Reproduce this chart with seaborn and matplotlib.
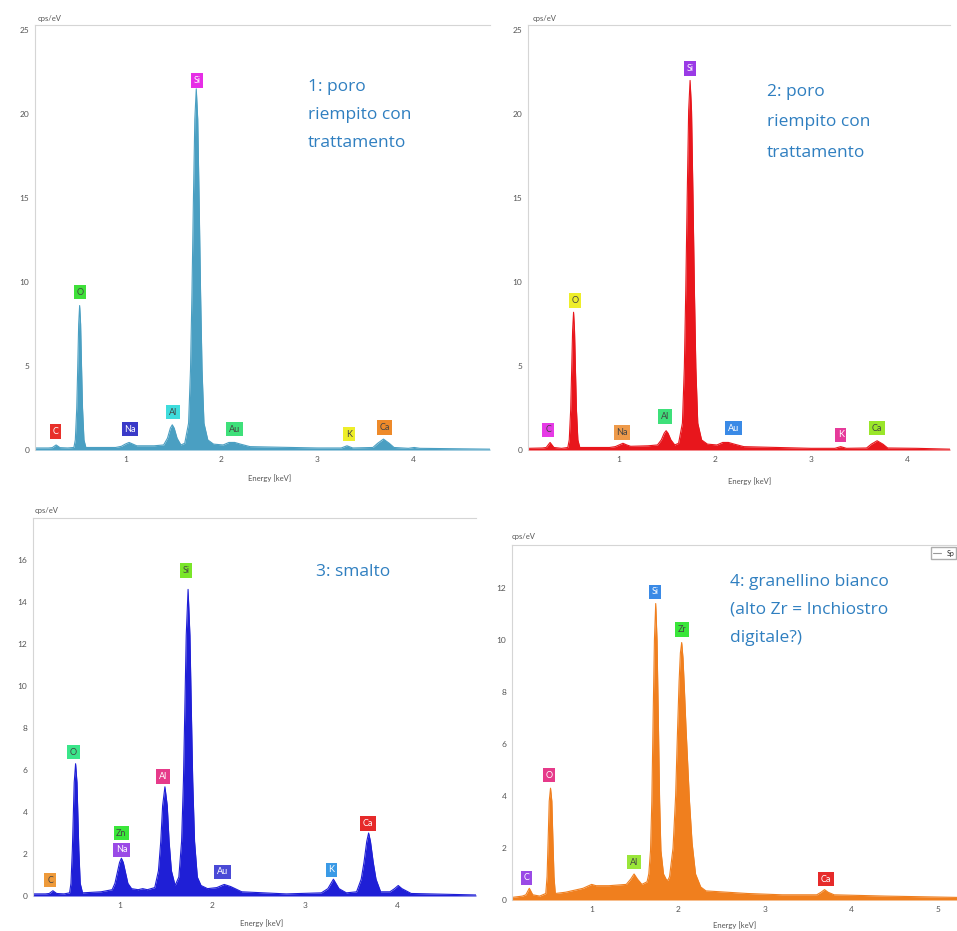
#!/usr/bin/env python3
"""EDS spectra, four measurement points (poro / smalto / granellino)."""

import matplotlib

matplotlib.use("Agg")
import matplotlib.pyplot as plt
import pandas as pd
import seaborn as sns

# --- panel 1: poro riempito con trattamento (1)
E1 = [0.06, 0.20, 0.24, 0.28, 0.32, 0.40, 0.465, 0.48, 0.495, 0.505, 0.515, 0.525, 0.535, 0.545,
      0.555, 0.57, 0.59, 0.90, 0.96, 1.00, 1.04, 1.08, 1.12, 1.30, 1.40, 1.44, 1.47, 1.49, 1.51,
      1.54, 1.58, 1.62, 1.66, 1.68, 1.695, 1.71, 1.725, 1.74, 1.755, 1.77, 1.785, 1.80, 1.82,
      1.86, 1.92, 2.02, 2.08, 2.14, 2.20, 2.30, 3.00, 3.25, 3.31, 3.37, 3.58, 3.63, 3.69, 3.75,
      3.80, 3.95, 4.01, 4.07, 4.80]
C1 = [0.12, 0.12, 0.14, 0.3, 0.14, 0.12, 0.15, 0.6, 2.5, 4.9, 7.5, 8.6, 7.5, 4.9,
      2.5, 0.6, 0.15, 0.15, 0.22, 0.35, 0.45, 0.35, 0.25, 0.25, 0.3, 0.7, 1.3, 1.5, 1.3,
      0.7, 0.3, 0.4, 1.6, 4.8, 9.3, 14.8, 19.7, 21.5, 19.7, 14.8, 9.3, 4.8, 1.6,
      0.6, 0.35, 0.3, 0.45, 0.45, 0.35, 0.2, 0.12, 0.12, 0.25, 0.12, 0.15, 0.4, 0.65, 0.4,
      0.15, 0.1, 0.15, 0.1, 0.05]
EL1 = ["C", "O", "Na", "Al", "Si", "Au", "K", "Ca"]
EL1_X = [0.27, 0.53, 1.05, 1.50, 1.75, 2.14, 3.33, 3.70]
EL1_Y = [1.1, 9.4, 1.25, 2.25, 22.0, 1.25, 0.95, 1.35]
EL1_COL = ["#e8302a", "#3fe03a", "#3a3ac8", "#3fdcdc", "#e62ee6", "#3ee07a", "#eeee2a", "#ee8a2a"]

# --- panel 2: poro riempito con trattamento (2)
E2 = [0.05, 0.20, 0.24, 0.28, 0.32, 0.40, 0.465, 0.48, 0.495, 0.505, 0.515, 0.525, 0.535, 0.545,
      0.555, 0.57, 0.59, 0.90, 0.96, 1.00, 1.04, 1.08, 1.12, 1.30, 1.40, 1.44, 1.47, 1.49, 1.51,
      1.54, 1.58, 1.62, 1.66, 1.68, 1.695, 1.71, 1.725, 1.74, 1.755, 1.77, 1.785, 1.80, 1.82,
      1.86, 1.92, 2.02, 2.08, 2.14, 2.20, 2.30, 3.00, 3.25, 3.31, 3.37, 3.58, 3.63, 3.69, 3.75,
      3.80, 4.10, 4.45]
C2 = [0.1, 0.12, 0.15, 0.45, 0.15, 0.1, 0.15, 0.6, 2.4, 4.7, 7.1, 8.2, 7.1, 4.7,
      2.4, 0.6, 0.15, 0.15, 0.2, 0.3, 0.4, 0.3, 0.22, 0.25, 0.3, 0.6, 1.0, 1.15, 1.0,
      0.6, 0.3, 0.4, 1.6, 4.9, 9.5, 15.1, 20.2, 22.0, 20.2, 15.1, 9.5, 4.9, 1.6,
      0.6, 0.35, 0.3, 0.45, 0.45, 0.35, 0.2, 0.1, 0.1, 0.2, 0.1, 0.12, 0.35, 0.55, 0.35,
      0.12, 0.1, 0.05]
EL2 = ["C", "O", "Na", "Al", "Si", "Au", "K", "Ca"]
EL2_X = [0.26, 0.54, 1.03, 1.48, 1.74, 2.19, 3.31, 3.69]
EL2_Y = [1.2, 8.9, 1.05, 2.0, 22.7, 1.3, 0.9, 1.3]
EL2_COL = ["#e63ae6", "#eeee2a", "#ee9a4a", "#3ee07a", "#9a3ae6", "#3a8ae6", "#e63a9a", "#9ae62a"]

# --- panel 3: smalto
E3 = [0.06, 0.20, 0.24, 0.28, 0.32, 0.40, 0.46, 0.475, 0.49, 0.50, 0.51, 0.525, 0.54, 0.55,
      0.56, 0.575, 0.60, 0.80, 0.92, 0.95, 0.98, 1.00, 1.02, 1.04, 1.06, 1.09, 1.13, 1.20, 1.25,
      1.30, 1.38, 1.42, 1.445, 1.465, 1.49, 1.515, 1.535, 1.56, 1.60, 1.64, 1.67, 1.69, 1.705,
      1.72, 1.74, 1.76, 1.775, 1.79, 1.81, 1.84, 1.88, 1.95, 2.05, 2.13, 2.20, 2.32, 2.80, 3.18,
      3.25, 3.31, 3.37, 3.45, 3.56, 3.61, 3.64, 3.67, 3.69, 3.71, 3.74, 3.77, 3.82, 3.92, 3.97,
      4.01, 4.05, 4.15, 4.85]
C3 = [0.1, 0.1, 0.12, 0.25, 0.12, 0.1, 0.15, 0.6, 2.2, 3.8, 5.4, 6.3, 5.4, 3.8,
      2.2, 0.6, 0.15, 0.2, 0.3, 0.6, 1.2, 1.6, 1.8, 1.6, 1.2, 0.6, 0.35, 0.3, 0.35,
      0.3, 0.4, 1.2, 2.6, 4.3, 5.2, 4.3, 2.6, 1.2, 0.5, 0.9, 2.6, 5.5, 8.9,
      12.4, 14.6, 12.4, 8.9, 5.5, 2.6, 0.9, 0.5, 0.35, 0.4, 0.55, 0.45, 0.2, 0.1, 0.15,
      0.35, 0.8, 0.35, 0.15, 0.2, 0.8, 1.6, 2.6, 3.0, 2.6, 1.6, 0.8, 0.2, 0.2, 0.35,
      0.5, 0.35, 0.12, 0.05]
EL3 = ["C", "O", "Zn", "Na", "Al", "Si", "Au", "K", "Ca"]
EL3_X = [0.25, 0.50, 1.02, 1.02, 1.47, 1.72, 2.11, 3.29, 3.68]
EL3_Y = [0.75, 6.85, 3.0, 2.2, 5.7, 15.5, 1.15, 1.25, 3.45]
EL3_COL = ["#ee9a3a", "#3ae68a", "#3ae63a", "#9a4ae6", "#e63a8a", "#7ae62a", "#4a4ad6", "#3a9ae6", "#e62a2a"]

# --- panel 4: granellino bianco
E4 = [0.08, 0.20, 0.24, 0.28, 0.32, 0.40, 0.47, 0.485, 0.50, 0.51, 0.525, 0.54, 0.55, 0.565,
      0.58, 0.70, 0.90, 1.00, 1.05, 1.20, 1.40, 1.45, 1.49, 1.53, 1.58, 1.64, 1.66, 1.68, 1.695,
      1.71, 1.725, 1.74, 1.755, 1.77, 1.785, 1.80, 1.83, 1.86, 1.88, 1.90, 1.94, 1.97, 1.99,
      2.01, 2.025, 2.04, 2.055, 2.07, 2.09, 2.11, 2.13, 2.16, 2.20, 2.26, 2.32, 2.80, 3.20, 3.60,
      3.65, 3.69, 3.73, 3.80, 4.40, 5.22]
C4 = [0.1, 0.15, 0.2, 0.45, 0.2, 0.15, 0.25, 0.9, 2.6, 3.8, 4.3, 3.8, 2.6, 0.9,
      0.25, 0.3, 0.45, 0.6, 0.55, 0.55, 0.6, 0.8, 1.0, 0.8, 0.6, 0.7, 1.0, 1.9, 3.8,
      7.0, 10.0, 11.4, 10.0, 7.0, 3.8, 1.9, 1.0, 0.8, 0.75, 0.9, 2.0, 4.0, 6.3,
      8.4, 9.5, 9.9, 9.3, 8.2, 6.6, 5.2, 3.8, 2.2, 1.0, 0.5, 0.35, 0.25, 0.2, 0.2,
      0.3, 0.4, 0.3, 0.2, 0.15, 0.1]
EL4 = ["C", "O", "Al", "Si", "Zr", "Ca"]
EL4_X = [0.25, 0.51, 1.49, 1.73, 2.04, 3.71]
EL4_Y = [0.85, 4.8, 1.45, 11.85, 10.4, 0.8]
EL4_COL = ["#9a4ae6", "#e63a8a", "#9ae63a", "#3a8ae6", "#3ae63a", "#e62a2a"]

NOTES = ["1: poro\nriempito con\ntrattamento",
         "2: poro\nriempito con\ntrattamento",
         "3: smalto",
         "4: granellino bianco\n(alto Zr = Inchiostro\ndigitale?)"]

W, H = 957, 931
DARK_BOX = {"#3a3ac8", "#e62ee6", "#9a3ae6", "#3a8ae6", "#e63a9a", "#9a4ae6", "#e63a8a",
            "#4a4ad6", "#3a9ae6", "#e62a2a", "#e8302a"}

sns.set_theme(style="white")
plt.rcParams["font.family"] = ["Lato", "DejaVu Sans"]

fig = plt.figure(figsize=(W / 100, H / 100), dpi=100)


def add_px_axes(left, top, right, bottom):
    return fig.add_axes([left / W, 1 - bottom / H, (right - left) / W, (bottom - top) / H])


def spectrum(ax, energy, counts, color, xlim, ylim, yticks, xticks):
    frame = pd.DataFrame({"energy": energy, "counts": counts})
    sns.lineplot(data=frame, x="energy", y="counts", color=color, linewidth=0.8, ax=ax,
                 label="Spectrum")
    ax.fill_between(frame["energy"], 0, frame["counts"], color=color, lw=0)
    ax.set_xlim(*xlim)
    ax.set_ylim(*ylim)
    ax.set_xticks(xticks)
    ax.set_yticks(yticks)
    ax.set(xlabel="", ylabel="")
    ax.tick_params(labelsize=6, colors="#555555", length=2, width=0.5, pad=2)
    for side in ("right", "bottom"):
        ax.spines[side].set_visible(False)
    for side in ("left", "top"):
        ax.spines[side].set_color("#d5d5d5")
        ax.spines[side].set_linewidth(0.8)
    ax.get_legend().remove()


def tags(ax, names, xs, ys, colors):
    for name, x, y, col in zip(names, xs, ys, colors):
        ax.text(x, y, name, ha="center", va="center", fontsize=6.5,
                color="white" if col in DARK_BOX else "#444444",
                bbox=dict(boxstyle="square,pad=0.3", fc=col, ec="none"))


ax1 = add_px_axes(35, 25, 490, 450)
spectrum(ax1, E1, C1, "#4a9fc2", (0.06, 4.80), (0, 25.3), [0, 5, 10, 15, 20, 25], [1, 2, 3, 4])
tags(ax1, EL1, EL1_X, EL1_Y, EL1_COL)

ax2 = add_px_axes(528, 25, 950, 450)
spectrum(ax2, E2, C2, "#e8161c", (0.05, 4.45), (0, 25.3), [0, 5, 10, 15, 20, 25], [1, 2, 3, 4])
tags(ax2, EL2, EL2_X, EL2_Y, EL2_COL)

ax3 = add_px_axes(33, 518, 476, 896)
spectrum(ax3, E3, C3, "#1f1fd6", (0.065, 4.85), (0, 18), [0, 2, 4, 6, 8, 10, 12, 14, 16], [1, 2, 3, 4])
tags(ax3, EL3, EL3_X, EL3_Y, EL3_COL)

ax4 = add_px_axes(512, 545, 957, 900)
spectrum(ax4, E4, C4, "#f07f1e", (0.08, 5.22), (0, 13.65), [0, 2, 4, 6, 8, 10, 12], [1, 2, 3, 4, 5])
tags(ax4, EL4, EL4_X, EL4_Y, EL4_COL)
ax4.legend(handles=[plt.Line2D([], [], color="#999999", lw=0.8)], labels=["Sp"],
           loc="upper right", bbox_to_anchor=(1.0, 0.995), fontsize=5, frameon=True,
           fancybox=False, edgecolor="#999999", handlelength=1.2, borderpad=0.3,
           borderaxespad=0.1)

# axis captions (cps/eV above, Energy below)
for x, y in [(38, 18), (533, 18), (35, 510), (512, 537)]:
    fig.text(x / W, 1 - y / H, "cps/eV", fontsize=5.5, color="#555555", va="center")
for x, y in [(270, 478), (750, 481), (262, 923), (735, 925)]:
    fig.text(x / W, 1 - y / H, "Energy [keV]", fontsize=5.5, color="#555555",
             ha="center", va="center")

# notes
for (x, y), sp, note in zip([(308, 79), (767, 84), (316, 564), (730, 574)],
                            [2.0, 2.2, 2.0, 2.0], NOTES):
    fig.text(x / W, 1 - y / H, note, fontsize=12.5, color="#2f7fc0", va="top", ha="left",
             linespacing=sp, family=["Open Sans", "DejaVu Sans"])

fig.savefig("out.png", dpi=100)
